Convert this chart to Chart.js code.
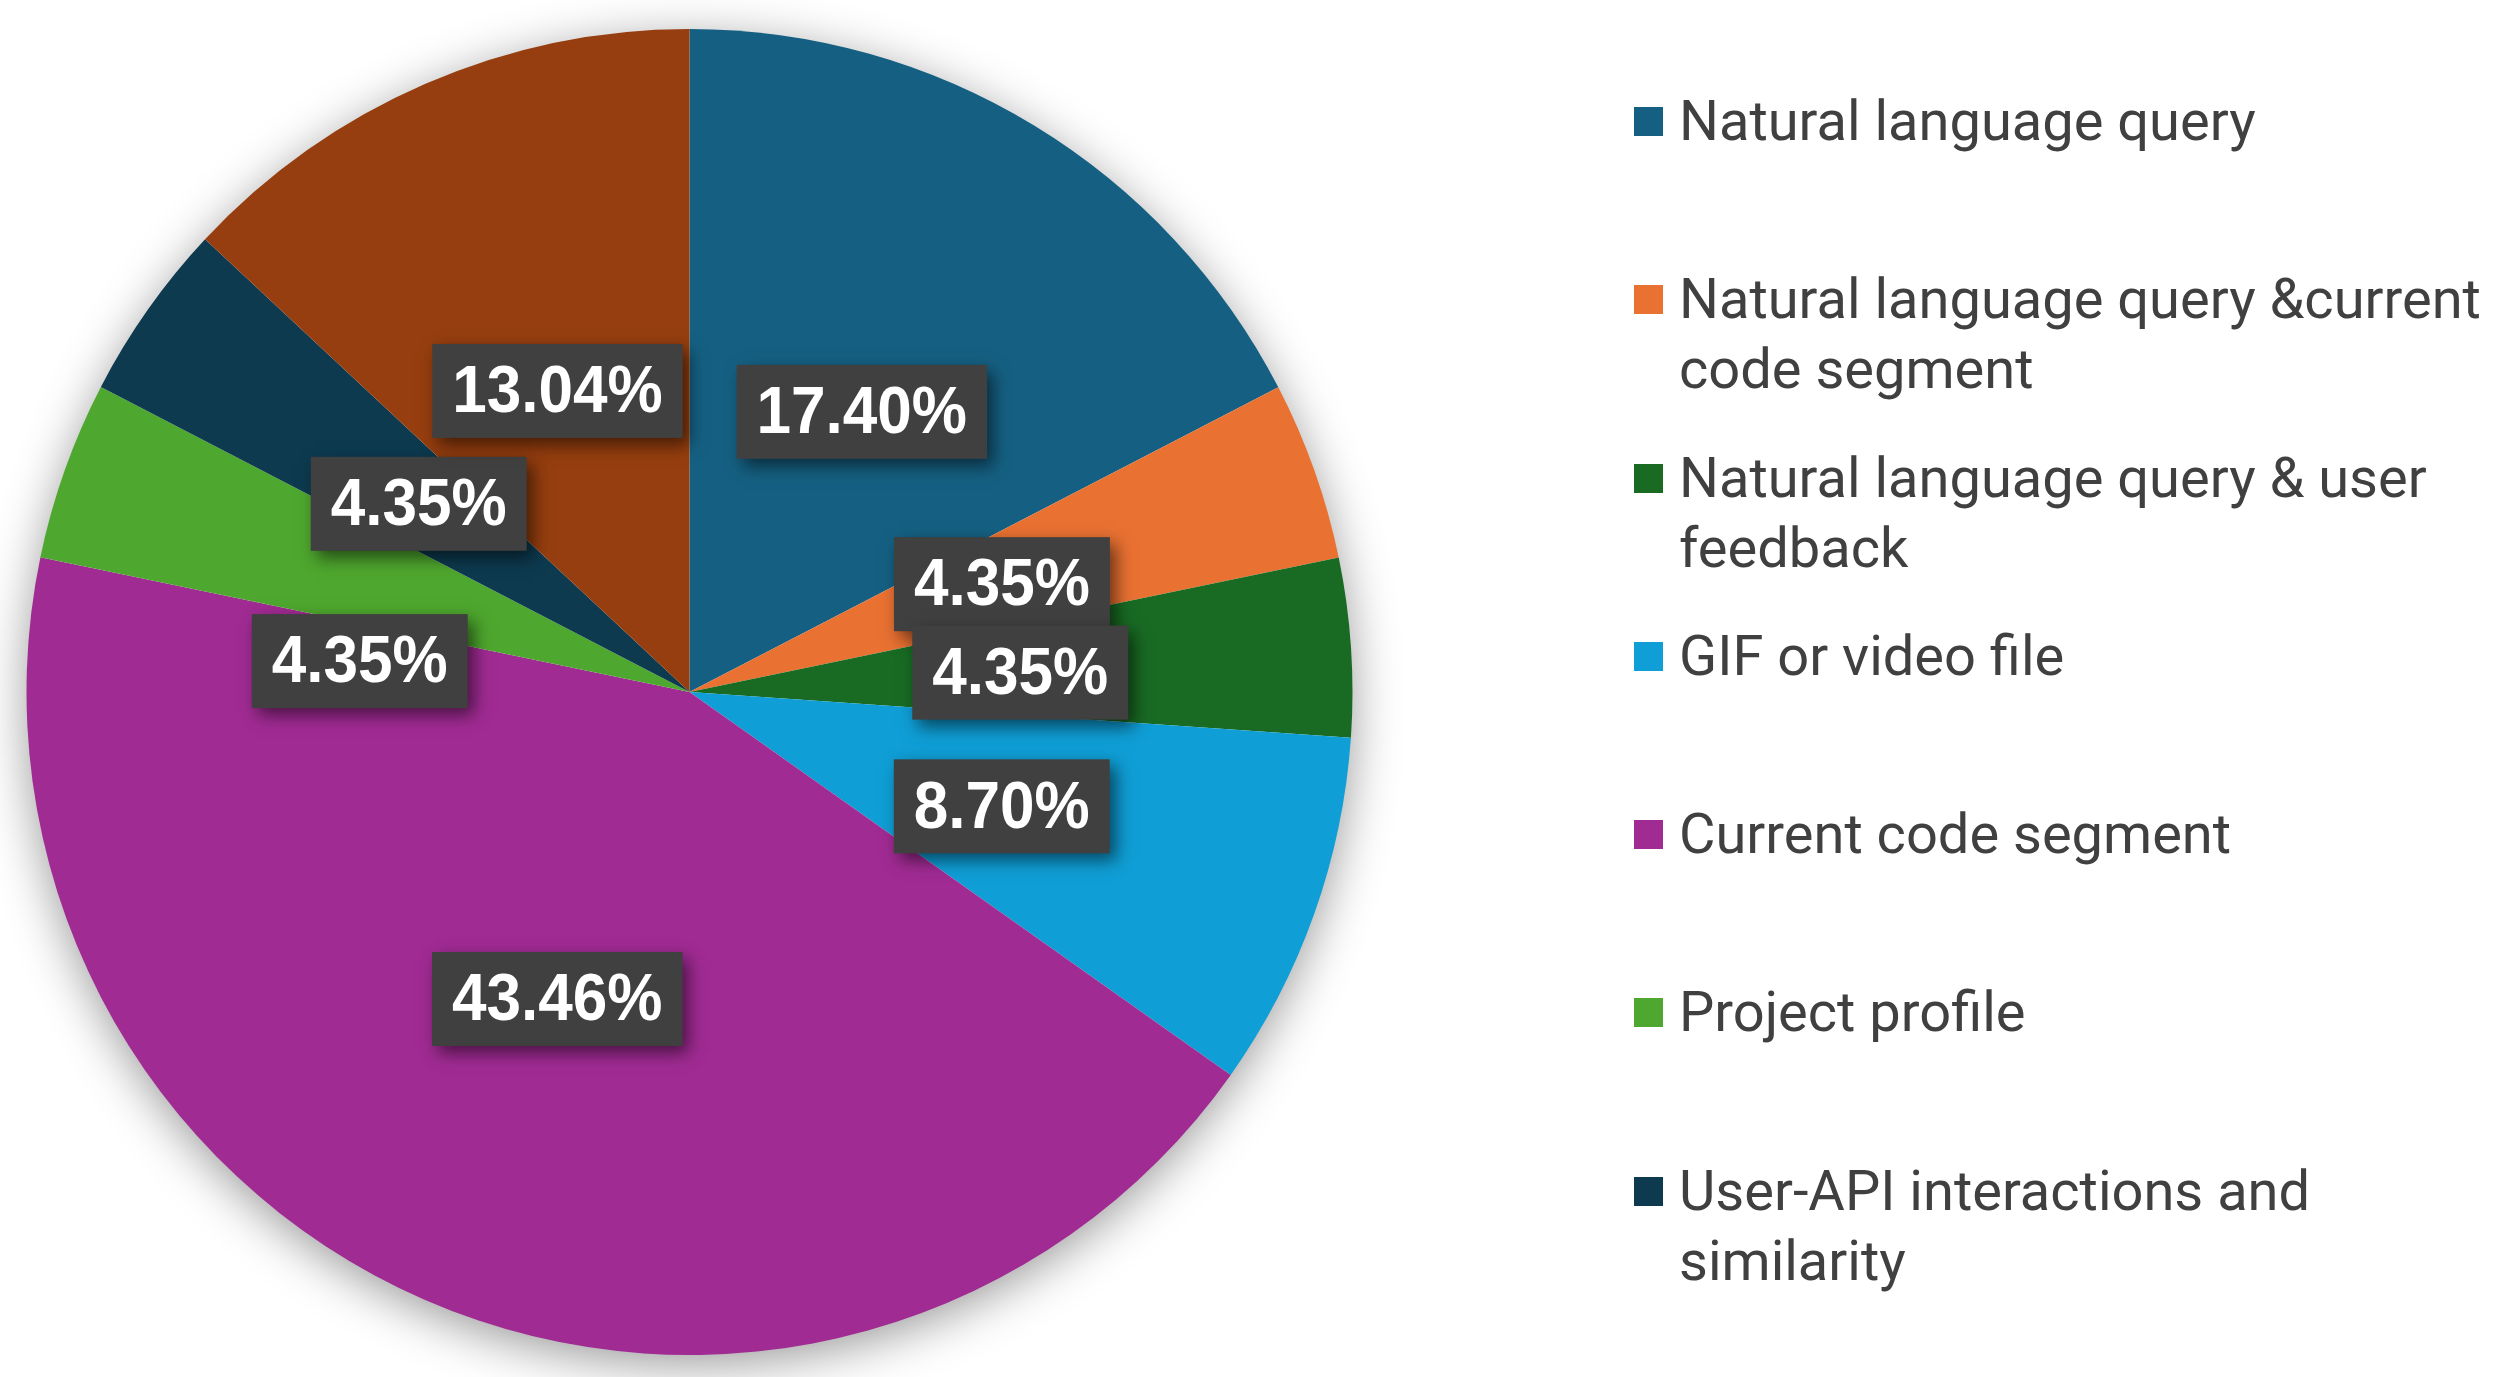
<!DOCTYPE html>
<html lang="en">
<head>
    <meta charset="UTF-8">
    <title>Information sources</title>
    <script src="https://cdn.jsdelivr.net/npm/chart.js"></script>
    <style>
        html, body { margin: 0; padding: 0; background: #fff; }
        #wrap { position: relative; width: 2507px; height: 1377px; overflow: hidden; }
        #legend {
            position: absolute; left: 1634px; top: 86px;
            display: grid; grid-template-rows: repeat(7, 178.3px);
            font-family: Roboto, sans-serif; font-size: 56px; line-height: 70px; color: #404040;
        }
        .item { display: flex; align-items: flex-start; }
        .box { width: 29px; height: 29px; margin-top: 21px; margin-right: 16px; flex: none; }
        .txt { width: 815px; }
    </style>
</head>
<body>
<div id="wrap">
    <canvas id="pie"></canvas>
    <div id="legend"></div>
</div>
<script>
    // legend entries (the last slice has no legend entry in the figure)
    const categories = [
        'Natural language query',
        'Natural language query &current code segment',
        'Natural language query & user feedback',
        'GIF or video file',
        'Current code segment',
        'Project profile',
        'User-API interactions and similarity'
    ];
    const values = [17.40, 4.35, 4.35, 8.70, 43.46, 4.35, 4.35, 13.04];
    const colors = ['#156082', '#E97132', '#196B24', '#0F9ED5', '#A02B93', '#4EA72E', '#0D3A4F', '#963E0F'];

    // Excel moved the "Project profile" label a bit to dodge its neighbour
    const labelNudgeDeg = [0, 0, 0, 0, 0, -13.7, 0, 0];

    const legend = document.getElementById('legend');
    categories.forEach((name, i) => {
        const item = document.createElement('div');
        item.className = 'item';
        item.innerHTML = '<span class="box" style="background:' + colors[i] + '"></span><span class="txt"></span>';
        item.querySelector('.txt').textContent = name;
        legend.appendChild(item);
    });

    const pieShadow = {
        id: 'pieShadow',
        beforeDatasetsDraw(chart) {
            const arc = chart.getDatasetMeta(0).data[0];
            const { x, y, outerRadius } = arc.getProps(['x', 'y', 'outerRadius'], true);
            const ctx = chart.ctx;
            ctx.save();
            ctx.shadowColor = 'rgba(0,0,0,0.42)';
            ctx.shadowBlur = 50;
            ctx.shadowOffsetY = 10;
            ctx.fillStyle = '#ffffff';
            ctx.beginPath();
            ctx.arc(x, y, outerRadius - 2, 0, Math.PI * 2);
            ctx.fill();
            ctx.restore();
        }
    };

    const valueLabels = {
        id: 'valueLabels',
        afterDatasetsDraw(chart) {
            const ctx = chart.ctx;
            const meta = chart.getDatasetMeta(0);
            const sx = 0.94;
            ctx.save();
            ctx.font = 'bold 66px "Liberation Sans", Arial, sans-serif';
            ctx.textAlign = 'center';
            ctx.textBaseline = 'middle';
            meta.data.forEach((arc, i) => {
                const p = arc.getProps(['x', 'y', 'startAngle', 'endAngle', 'outerRadius'], true);
                const a = (p.startAngle + p.endAngle) / 2 + labelNudgeDeg[i] * Math.PI / 180;
                const cx = p.x + Math.cos(a) * p.outerRadius * 0.5;
                const cy = p.y + Math.sin(a) * p.outerRadius * 0.5 + 3;
                const text = values[i].toFixed(2) + '%';
                const w = ctx.measureText(text).width * sx + 40;
                const h = 94;
                ctx.save();
                ctx.shadowColor = 'rgba(0,0,0,0.55)';
                ctx.shadowBlur = 16;
                ctx.shadowOffsetX = 6;
                ctx.shadowOffsetY = 7;
                ctx.fillStyle = '#404040';
                ctx.fillRect(cx - w / 2, cy - h / 2, w, h);
                ctx.restore();
                ctx.save();
                ctx.translate(cx, cy + 3);
                ctx.scale(sx, 1);
                ctx.fillStyle = '#ffffff';
                ctx.fillText(text, 0, 0);
                ctx.restore();
            });
            ctx.restore();
        }
    };

    new Chart(document.getElementById('pie'), {
        type: 'pie',
        data: {
            labels: categories.concat(['']),
            datasets: [{
                data: values,
                backgroundColor: colors,
                borderWidth: 0,
                hoverOffset: 0
            }]
        },
        options: {
            responsive: true,
            maintainAspectRatio: false,
            animation: false,
            layout: { padding: { left: 26, right: 1154, top: 29, bottom: 22 } },
            plugins: {
                legend: { display: false },
                tooltip: { enabled: false }
            }
        },
        plugins: [pieShadow, valueLabels]
    });
</script>
</body>
</html>
